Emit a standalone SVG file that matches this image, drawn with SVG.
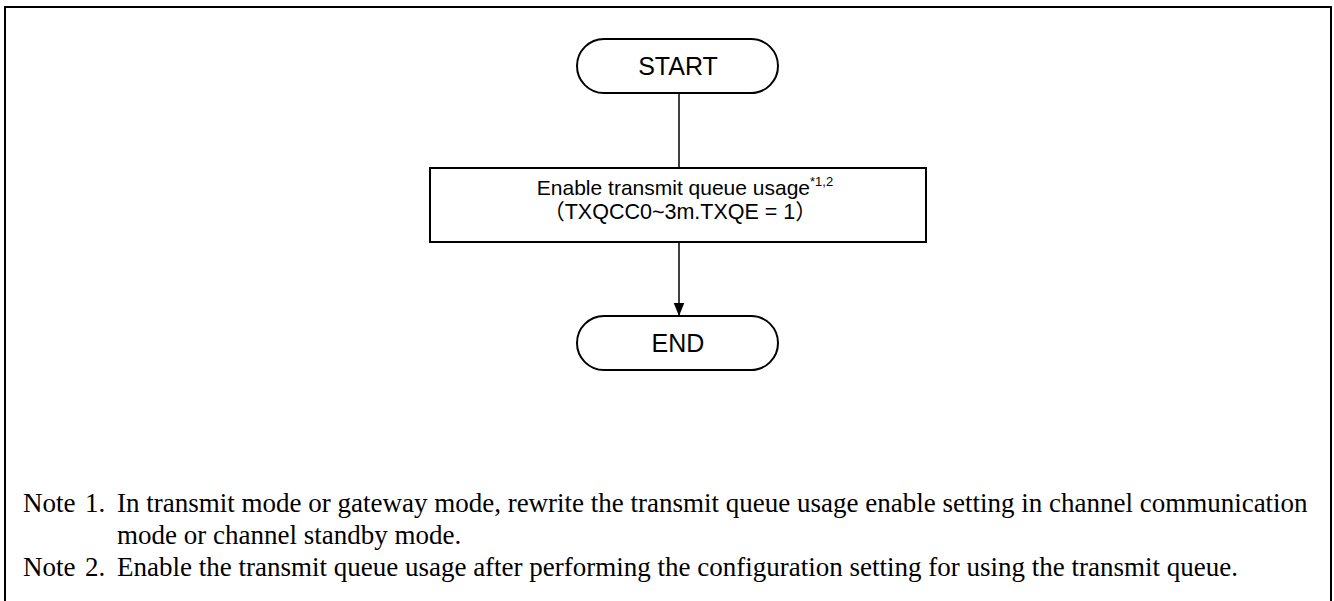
<svg xmlns="http://www.w3.org/2000/svg" width="1334" height="601" viewBox="0 0 1334 601">
<defs>
<style>
.shape{fill:#fff;stroke:#000;stroke-width:2}
.lbl{font-family:"Liberation Sans",Arial,"Noto Sans CJK JP",sans-serif;fill:#000;text-anchor:middle}
.note{font-family:"Liberation Serif","Times New Roman",serif;font-size:27px;fill:#000}
.conn{stroke:#000;stroke-width:1.5;fill:none}
</style>
<marker id="ah" markerWidth="13" markerHeight="16" refX="16" refY="6.5" orient="auto" markerUnits="userSpaceOnUse" viewBox="0 0 16 13">
<path d="M0,0 L16,6.5 L0,13 Z" fill="#000"/>
</marker>
</defs>
<path d="M5,601 V7 H1331 V601" fill="none" stroke="#000" stroke-width="2"/>
<g id="connectors">
<line class="conn" x1="679" y1="93" x2="679" y2="168"/>
<line class="conn" x1="679" y1="242" x2="679" y2="316" marker-end="url(#ah)"/>
</g>
<g id="start">
<rect class="shape" x="577" y="39" width="201" height="54" rx="27"/>
<text class="lbl" x="678" y="75" font-size="25">START</text>
</g>
<g id="process">
<rect class="shape" x="430" y="168" width="496" height="74"/>
<text class="lbl" x="685" y="195" font-size="21">Enable transmit queue usage<tspan font-size="13" dy="-9">*1,2</tspan></text>
<text class="lbl" x="680" y="219" font-size="21.5">（TXQCC0~3m.TXQE = 1）</text>
</g>
<g id="end">
<rect class="shape" x="577" y="316" width="201" height="54" rx="27"/>
<text class="lbl" x="678" y="352" font-size="25">END</text>
</g>
<g id="notes">
<text class="note" x="23" y="512">Note</text>
<text class="note" x="85" y="512">1.</text>
<text class="note" x="117" y="512">In transmit mode or gateway mode, rewrite the transmit queue usage enable setting in channel communication</text>
<text class="note" x="117" y="544">mode or channel standby mode.</text>
<text class="note" x="23" y="576">Note</text>
<text class="note" x="85" y="576">2.</text>
<text class="note" x="117" y="576">Enable the transmit queue usage after performing the configuration setting for using the transmit queue.</text>
</g>
</svg>
